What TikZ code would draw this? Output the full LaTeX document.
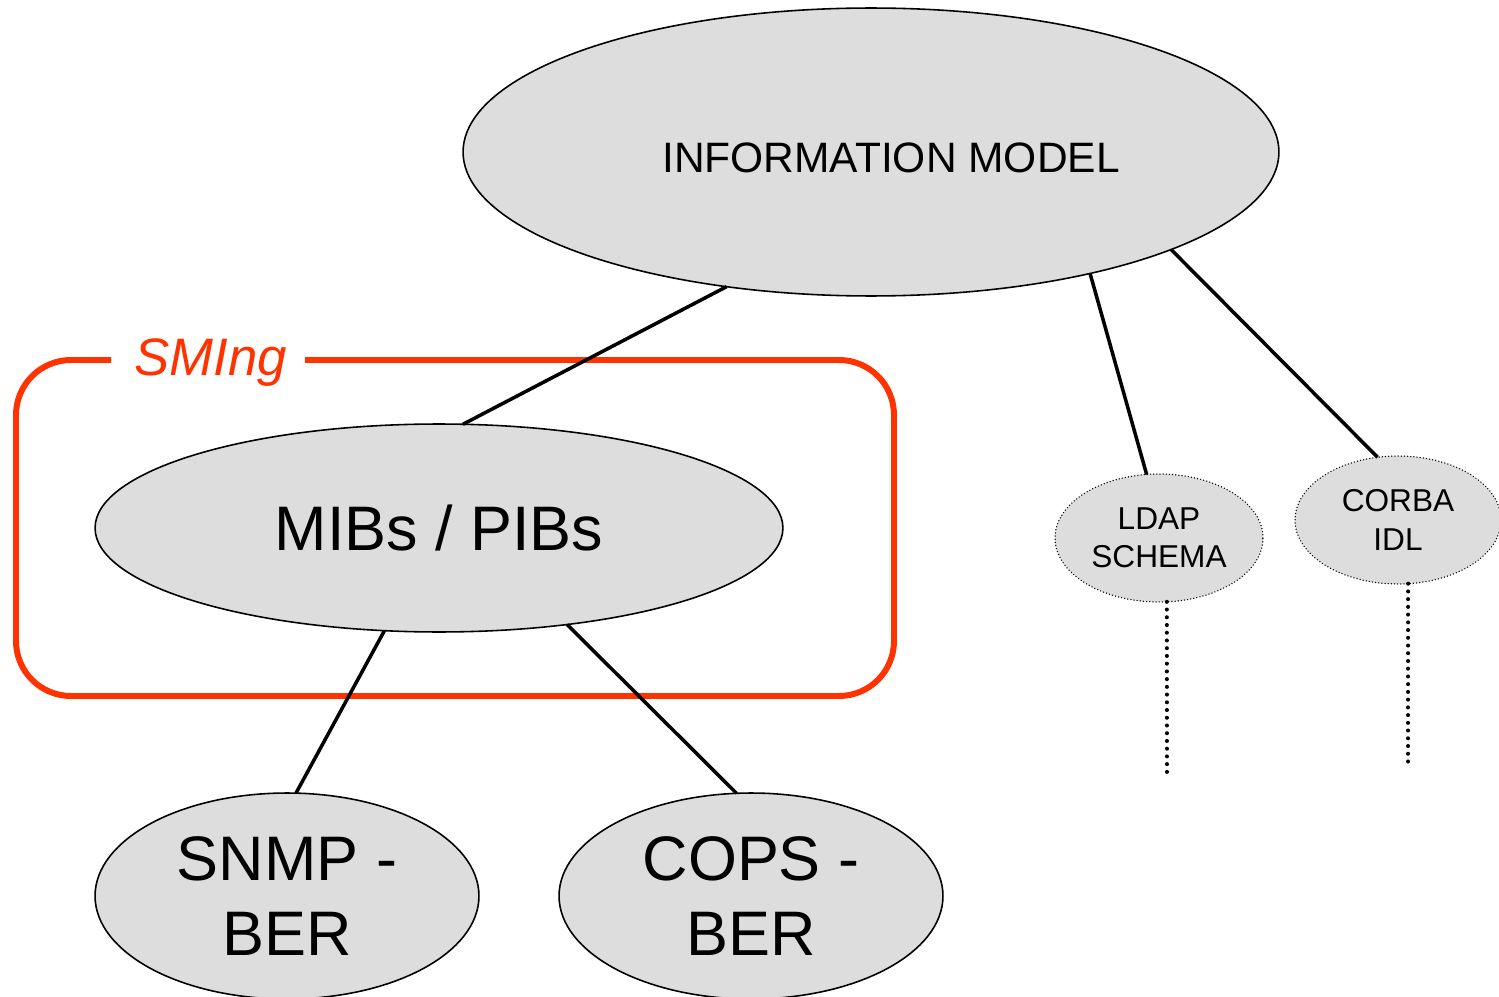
\documentclass[tikz,border=0pt]{standalone}
\usepackage{fontspec}
\setmainfont{Liberation Sans}
\usetikzlibrary{shapes.geometric}

\definecolor{smred}{HTML}{FF3300}
\definecolor{ellgray}{HTML}{DDDDDD}

\tikzset{
  model/.style={ellipse, draw, fill=ellgray, line width=0.9pt, inner sep=0pt, outer sep=0pt, align=center},
  sidemodel/.style={model, line width=0.85pt, line cap=round, dash pattern=on 0pt off 1.8pt},
  link/.style={line width=2pt},
  dotlink/.style={line width=2.3pt, line cap=round, dash pattern=on 0pt off 4.4pt},
  smbox/.style={draw=smred, line width=3.4pt, rounded corners=1.1cm},
}

\begin{document}
\begin{tikzpicture}[x=0.02cm, y=-0.02cm]
            % Page frame
            \useasboundingbox (0,0) rectangle (1499,997);

            % Information model on top
            \node[model, minimum width=16.32cm, minimum height=5.76cm, font=\fontsize{24.2}{29}\selectfont] (im) at (871,152) {\hspace*{0.8cm}\raisebox{-0.12cm}[\height][0pt]{INFORMATION MODEL}};

            % SMIng frame (gap for the label)
            \draw[smbox] (305,360) -- (894,360) -- (894,696) -- (16,696) -- (16,360) -- (111,360);
            \node[anchor=base, text=smred, font=\fontsize{30}{36}\selectfont\itshape] (sming) at (211,375) {SMIng};

            % Data models
            \node[model, minimum width=13.76cm, minimum height=4.16cm, font=\fontsize{35.8}{43}\selectfont] (mibs) at (439,528) {MIBs / PIBs};
            \node[sidemodel, minimum width=4.16cm, minimum height=2.56cm, font=\fontsize{18}{21.6}\selectfont] (ldap) at (1159,538) {LDAP\\SCHEMA};
            \node[sidemodel, minimum width=4.12cm, minimum height=2.56cm, font=\fontsize{18}{22}\selectfont] (corba) at (1398,520) {CORBA\\IDL};

            % Encodings
            \node[model, minimum width=7.68cm, minimum height=4.12cm, font=\fontsize{35.8}{43}\selectfont] (snmp) at (287,896) {SNMP -\\BER};
            \node[model, minimum width=7.68cm, minimum height=4.12cm, font=\fontsize{35.8}{43}\selectfont] (cops) at (751,896) {COPS -\\BER};

            % Links
            \draw[link] (im.223) -- (mibs.77);
            \draw[link] (im.-29) -- (ldap.101);
            \draw[link] (im.-18) -- (corba.108);
            \draw[link] (mibs.-118) -- (snmp.85);
            \draw[link] (mibs.-37) -- (cops.98);

            % Open ends below the side models
            \coordinate (ldapend) at (1167,778);
            \coordinate (corbaend) at (1408,762);
            \draw[dotlink] (ldap.-83) -- (ldapend);
            \draw[dotlink] (corba.-81) -- (corbaend);

        \end{tikzpicture}
\end{document}
